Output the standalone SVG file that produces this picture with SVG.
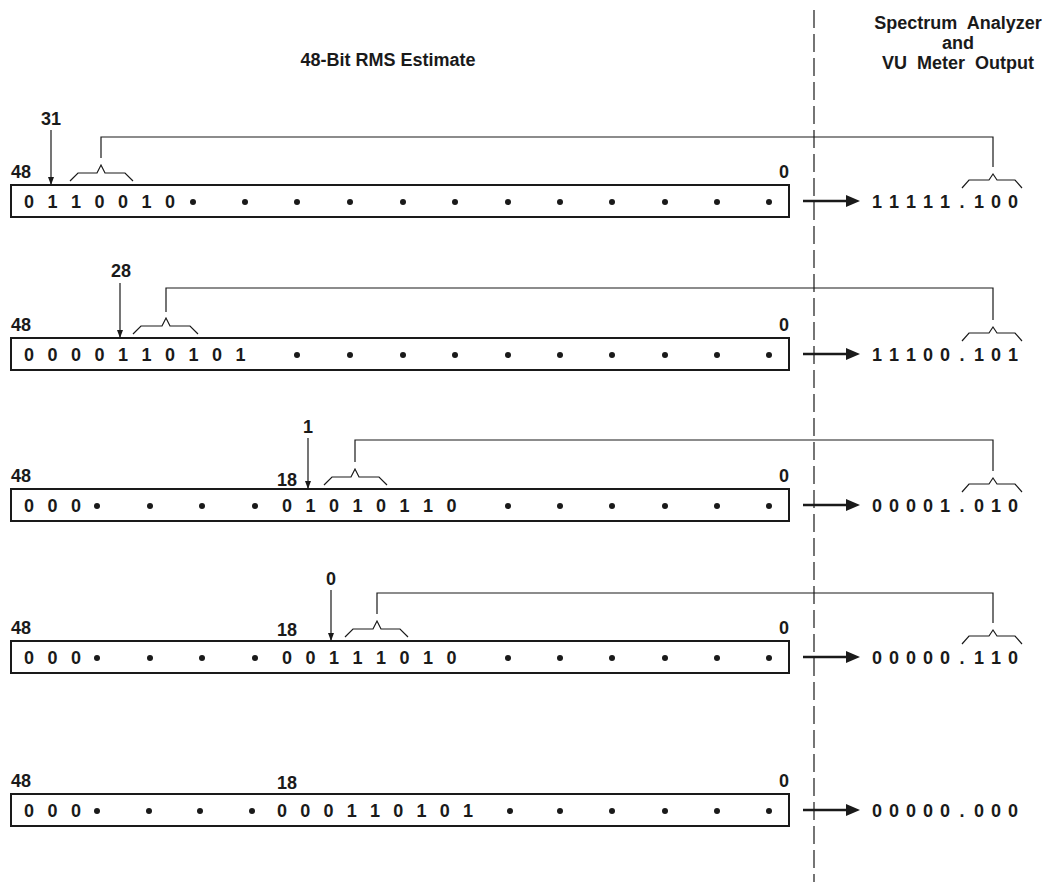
<svg xmlns="http://www.w3.org/2000/svg" width="1055" height="882" viewBox="0 0 1055 882">
<style>
.t{font-family:"Liberation Sans",Arial,Helvetica,sans-serif;font-weight:bold;font-size:18px;fill:#1a1a1a}
.m{text-anchor:middle}
.e{text-anchor:end}
.box{fill:#fff;stroke:#1a1a1a;stroke-width:2}
.ln{fill:none;stroke:#1a1a1a;stroke-width:1.2}
.out{fill:none;stroke:#1a1a1a;stroke-width:2.6}
.dot{fill:#1a1a1a}
</style>
<defs>
<marker id="big" viewBox="0 0 14 12" refX="4" refY="6" markerWidth="14" markerHeight="12" markerUnits="userSpaceOnUse" orient="auto"><path d="M0,0 L14,6 L0,12 z" fill="#1a1a1a"/></marker>
<marker id="sm" viewBox="0 0 8 6" refX="8" refY="3" markerWidth="8" markerHeight="6" markerUnits="userSpaceOnUse" orient="auto"><path d="M0,0 L8,3 L0,6 z" fill="#1a1a1a"/></marker>
</defs>
<rect width="1055" height="882" fill="#fff"/>
<g id="titles">
<text class="t m" x="388" y="66">48-Bit RMS Estimate</text>
<text class="t m" x="958" y="29" xml:space="preserve">Spectrum  Analyzer</text>
<text class="t m" x="958" y="49">and</text>
<text class="t m" x="958" y="69" xml:space="preserve">VU  Meter  Output</text>
</g>
<g id="divider"><line x1="814" y1="10" x2="814" y2="882" class="ln" stroke-dasharray="18 6"/></g>

<g id="row1">
<rect class="box" x="11" y="185" width="778" height="32"/>
<text class="t" x="11" y="178">48</text>
<text class="t e" x="789" y="178">0</text>
<text class="t m" x="51" y="125">31</text>
<text class="t m" x="29 40.75 52.5 64.25 76 87.75 99.5 111.25 123 134.75 146.5 158.25 170" y="208">0 1 1 0 0 1 0</text>
<g class="dot"><circle cx="193" cy="202" r="3"/><circle cx="245" cy="202" r="3"/><circle cx="297" cy="202" r="3"/><circle cx="350" cy="202" r="3"/><circle cx="403" cy="202" r="3"/><circle cx="455" cy="202" r="3"/><circle cx="508" cy="202" r="3"/><circle cx="560" cy="202" r="3"/><circle cx="612" cy="202" r="3"/><circle cx="665" cy="202" r="3"/><circle cx="717" cy="202" r="3"/><circle cx="769" cy="202" r="3"/></g>
<path class="ln" d="M70,181 L78,173 L97,173 L101,165 L105,173 L125,173 L133,181"/>
<text class="t m" x="877 894 911 928 945 962 979 996 1013" y="208">11111.100</text>
<path class="ln" d="M962,188 L969,180 L989,180 L993,174 L997,180 L1015,180 L1022,188"/>
</g>

<g id="row2">
<rect class="box" x="11" y="338" width="778" height="32"/>
<text class="t" x="11" y="331">48</text>
<text class="t e" x="789" y="331">0</text>
<text class="t m" x="121" y="277">28</text>
<text class="t m" x="29 40.75 52.5 64.25 76 87.75 99.5 111.25 123 134.75 146.5 158.25 170 181.75 193.5 205.25 217 228.75 240.5" y="361">0 0 0 0 1 1 0 1 0 1</text>
<g class="dot"><circle cx="297" cy="355" r="3"/><circle cx="350" cy="355" r="3"/><circle cx="403" cy="355" r="3"/><circle cx="455" cy="355" r="3"/><circle cx="508" cy="355" r="3"/><circle cx="560" cy="355" r="3"/><circle cx="612" cy="355" r="3"/><circle cx="665" cy="355" r="3"/><circle cx="717" cy="355" r="3"/><circle cx="769" cy="355" r="3"/></g>
<path class="ln" d="M133,334 L141,326 L162,326 L166,318 L170,326 L190,326 L198,334"/>
<text class="t m" x="877 894 911 928 945 962 979 996 1013" y="361">11100.101</text>
<path class="ln" d="M962,341 L969,333 L989,333 L993,327 L997,333 L1015,333 L1022,341"/>
</g>

<g id="row3">
<rect class="box" x="11" y="489" width="778" height="32"/>
<text class="t" x="11" y="482">48</text>
<text class="t e" x="789" y="482">0</text>
<text class="t" x="277" y="486">18</text>
<text class="t m" x="308" y="433">1</text>
<text class="t m" x="29 40.75 52.5 64.25 76" y="512">0 0 0</text>
<text class="t m" x="287 298.75 310.5 322.25 334 345.75 357.5 369.25 381 392.75 404.5 416.25 428 439.75 451.5" y="512">0 1 0 1 0 1 1 0</text>
<g class="dot"><circle cx="97" cy="506" r="3"/><circle cx="150" cy="506" r="3"/><circle cx="202" cy="506" r="3"/><circle cx="255" cy="506" r="3"/><circle cx="508" cy="506" r="3"/><circle cx="560" cy="506" r="3"/><circle cx="612" cy="506" r="3"/><circle cx="665" cy="506" r="3"/><circle cx="717" cy="506" r="3"/><circle cx="769" cy="506" r="3"/></g>
<path class="ln" d="M324,485 L332,477 L351,477 L355,469 L359,477 L379,477 L387,485"/>
<text class="t m" x="877 894 911 928 945 962 979 996 1013" y="512">00001.010</text>
<path class="ln" d="M962,492 L969,484 L989,484 L993,478 L997,484 L1015,484 L1022,492"/>
</g>

<g id="row4">
<rect class="box" x="11" y="641" width="778" height="32"/>
<text class="t" x="11" y="634">48</text>
<text class="t e" x="789" y="634">0</text>
<text class="t" x="277" y="636">18</text>
<text class="t m" x="331" y="585">0</text>
<text class="t m" x="29 40.75 52.5 64.25 76" y="664">0 0 0</text>
<text class="t m" x="287 298.75 310.5 322.25 334 345.75 357.5 369.25 381 392.75 404.5 416.25 428 439.75 451.5" y="664">0 0 1 1 1 0 1 0</text>
<g class="dot"><circle cx="97" cy="658" r="3"/><circle cx="150" cy="658" r="3"/><circle cx="202" cy="658" r="3"/><circle cx="255" cy="658" r="3"/><circle cx="508" cy="658" r="3"/><circle cx="560" cy="658" r="3"/><circle cx="612" cy="658" r="3"/><circle cx="665" cy="658" r="3"/><circle cx="717" cy="658" r="3"/><circle cx="769" cy="658" r="3"/></g>
<path class="ln" d="M345,637 L353,629 L373,629 L377,621 L381,629 L400,629 L408,637"/>
<text class="t m" x="877 894 911 928 945 962 979 996 1013" y="664">00000.110</text>
<path class="ln" d="M962,644 L969,636 L989,636 L993,630 L997,636 L1015,636 L1022,644"/>
</g>

<g id="row5">
<rect class="box" x="11" y="794" width="778" height="32"/>
<text class="t" x="11" y="787">48</text>
<text class="t e" x="789" y="787">0</text>
<text class="t" x="277" y="789">18</text>
<text class="t m" x="29 40.75 52.5 64.25 76" y="817">0 0 0</text>
<text class="t m" x="282 293.625 305.25 316.875 328.5 340.125 351.75 363.375 375 386.625 398.25 409.875 421.5 433.125 444.75 456.375 468" y="817">0 0 0 1 1 0 1 0 1</text>
<g class="dot"><circle cx="97" cy="811" r="3"/><circle cx="149" cy="811" r="3"/><circle cx="200" cy="811" r="3"/><circle cx="252" cy="811" r="3"/><circle cx="510" cy="811" r="3"/><circle cx="560" cy="811" r="3"/><circle cx="612" cy="811" r="3"/><circle cx="665" cy="811" r="3"/><circle cx="717" cy="811" r="3"/><circle cx="769" cy="811" r="3"/></g>
<text class="t m" x="877 894 911 928 945 962 979 996 1013" y="817">00000.000</text>
</g>

<g id="connectors">
<line class="ln" x1="51" y1="130" x2="51" y2="185" marker-end="url(#sm)"/>
<line class="ln" x1="120" y1="283" x2="120" y2="338" marker-end="url(#sm)"/>
<line class="ln" x1="308" y1="438" x2="308" y2="489" marker-end="url(#sm)"/>
<line class="ln" x1="331" y1="590" x2="331" y2="641" marker-end="url(#sm)"/>
<polyline class="ln" points="101,158 101,137 993,137 993,167"/>
<polyline class="ln" points="166,312 166,288 993,288 993,320"/>
<polyline class="ln" points="355,462 355,440 993,440 993,471"/>
<polyline class="ln" points="377,614 377,593 993,593 993,623"/>
<line class="out" x1="803" y1="201" x2="850" y2="201" marker-end="url(#big)"/>
<line class="out" x1="803" y1="354" x2="850" y2="354" marker-end="url(#big)"/>
<line class="out" x1="803" y1="505" x2="850" y2="505" marker-end="url(#big)"/>
<line class="out" x1="803" y1="657" x2="850" y2="657" marker-end="url(#big)"/>
<line class="out" x1="803" y1="810" x2="850" y2="810" marker-end="url(#big)"/>
</g>
</svg>
